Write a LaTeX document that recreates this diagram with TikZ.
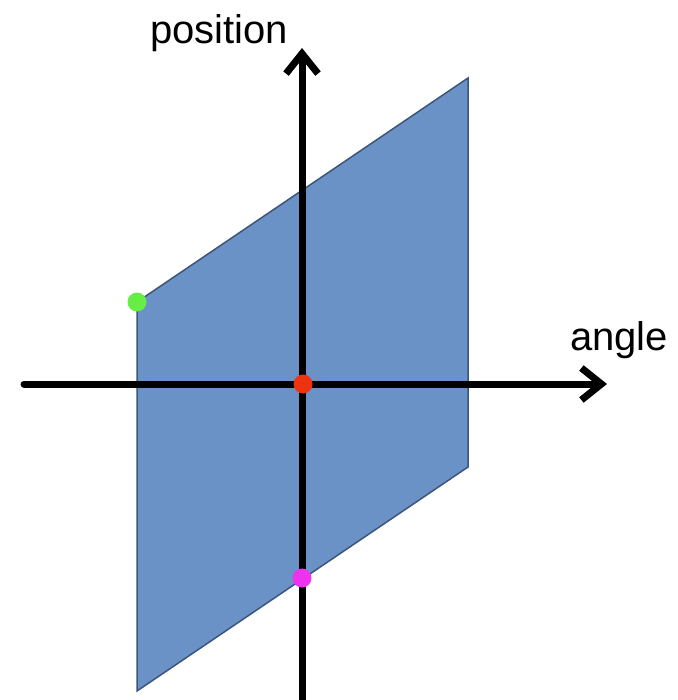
\documentclass[tikz,border=0pt]{standalone}
\usepackage{fontspec}
\setmainfont{Liberation Sans}
\usetikzlibrary{arrows.meta}
\definecolor{planefill}{RGB}{106,146,198}
\definecolor{planeedge}{RGB}{60,85,120}
\definecolor{dotgreen}{RGB}{102,238,68}
\definecolor{dotred}{RGB}{238,51,17}
\definecolor{dotmag}{RGB}{238,51,238}
\tikzset{
  axis/.style={line width=7pt, line cap=round, -{Straight Barb[length=20pt,width=32pt,line width=7pt]}},
  dotmark/.style={circle, inner sep=0pt, minimum size=19pt, draw=none},
  lbl/.style={font=\fontsize{40}{46}\selectfont, inner sep=0pt, anchor=base west}
}
\begin{document}
\begin{tikzpicture}[x=1pt,y=-1pt]
\useasboundingbox (0,0) rectangle (677,700);
\fill[white] (0,0) rectangle (677,700);
% plane
\coordinate (tl) at (137,302);
\coordinate (tr) at (468,78);
\coordinate (br) at (468,467);
\coordinate (bl) at (137,691);
\draw[fill=planefill, draw=planeedge, line width=1.5pt, line join=miter] (tl) -- (tr) -- (br) -- (bl) -- cycle;
% axes
\coordinate (vbot) at (302,703);
\coordinate (vtop) at (302,48);
\coordinate (hleft) at (24,384);
\coordinate (hright) at (607,384);
\draw[axis] (vbot) -- (vtop);
\draw[axis] (hleft) -- (hright);
% dots
\node[dotmark, fill=dotgreen] (g) at (137,302) {};
\node[dotmark, fill=dotred] (r) at (303,384) {};
\node[dotmark, fill=dotmag] (m) at (302,578) {};
% labels
\node[lbl] (pos) at (150,44) {position};
\node[lbl] (ang) at (570,350) {angle};
\end{tikzpicture}
\end{document}
